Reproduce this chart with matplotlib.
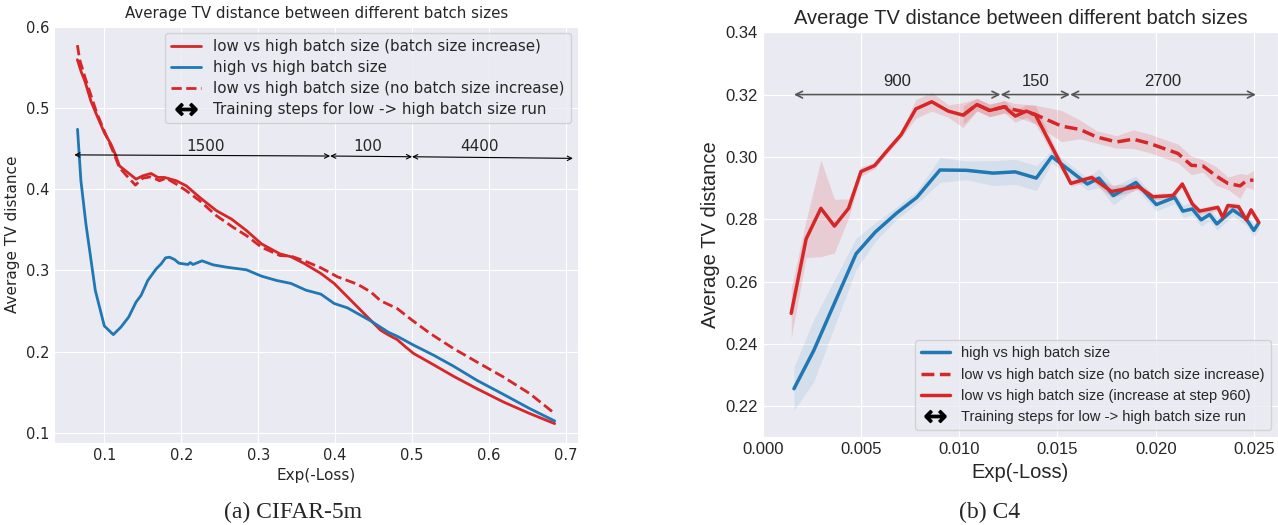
import numpy as np
import matplotlib
matplotlib.use('Agg')
import matplotlib.pyplot as plt
import seaborn as sns
from matplotlib.lines import Line2D

sns.set_style('darkgrid')
plt.rcParams['font.family'] = ['DejaVu Sans']

RED = '#d62728'
BLUE = '#1f77b4'
SANS2 = 'Liberation Sans'

# ---- (a) CIFAR-5m ----
# low vs high batch size (batch size increase)
cif_inc_x = [0.065, 0.070, 0.075, 0.0826, 0.09, 0.1, 0.1087, 0.1143, 0.1196, 0.1304,
             0.1413, 0.15, 0.1609, 0.1696, 0.1783, 0.1935, 0.2065, 0.2239, 0.2457, 0.2652,
             0.2848, 0.3043, 0.3283, 0.3427, 0.3599, 0.3815, 0.3987, 0.416, 0.4332, 0.4461,
             0.4591, 0.4698, 0.4806, 0.4914, 0.5022, 0.5237, 0.5539, 0.5841, 0.6185, 0.653, 0.6853]
cif_inc_y = [0.560, 0.545, 0.533, 0.509, 0.492, 0.470, 0.4557, 0.4434, 0.4291, 0.4209,
             0.4127, 0.4168, 0.4197, 0.4148, 0.4148, 0.4107, 0.4045, 0.3902, 0.3738, 0.3635,
             0.3492, 0.3328, 0.3205, 0.3169, 0.3086, 0.2963, 0.284, 0.2675, 0.251, 0.2387,
             0.2263, 0.2202, 0.2148, 0.2058, 0.1975, 0.186, 0.1695, 0.1543, 0.1379, 0.1235, 0.1111]
# high vs high batch size
cif_hh_x = [0.0652, 0.0696, 0.0761, 0.0883, 0.1, 0.1117, 0.1217, 0.1317, 0.1413, 0.1478,
            0.1565, 0.1674, 0.1739, 0.1796, 0.1848, 0.1913, 0.197, 0.2087, 0.2117, 0.2152,
            0.227, 0.2413, 0.2587, 0.2848, 0.3043, 0.3239, 0.3427, 0.3621, 0.3815, 0.3987,
            0.416, 0.4461, 0.4698, 0.4806, 0.5022, 0.528, 0.5539, 0.5841, 0.6185, 0.653, 0.6853]
cif_hh_y = [0.4742, 0.4107, 0.3574, 0.2754, 0.2316, 0.2209, 0.2303, 0.2426, 0.2611, 0.2693,
            0.2877, 0.302, 0.3082, 0.3156, 0.3164, 0.3135, 0.309, 0.3074, 0.3098, 0.3074,
            0.3119, 0.307, 0.3041, 0.3008, 0.293, 0.2877, 0.284, 0.2757, 0.2708, 0.2593,
            0.2539, 0.2379, 0.2235, 0.2189, 0.2078, 0.1955, 0.1819, 0.1646, 0.1473, 0.1296, 0.1144]
# low vs high batch size (no batch size increase)
cif_noinc_x = [0.065, 0.068, 0.075, 0.082, 0.09, 0.1, 0.11, 0.1196, 0.1291, 0.1404,
               0.15, 0.1609, 0.1717, 0.1804, 0.1935, 0.2065, 0.2239, 0.2457, 0.2674, 0.2848,
               0.3043, 0.3283, 0.3427, 0.3599, 0.3815, 0.403, 0.4289, 0.4461, 0.4591, 0.4806,
               0.5, 0.5237, 0.5539, 0.5841, 0.6185, 0.653, 0.6853]
cif_noinc_y = [0.578, 0.560, 0.538, 0.518, 0.495, 0.472, 0.450, 0.427, 0.4168, 0.4053,
               0.4139, 0.4156, 0.4107, 0.4139, 0.4066, 0.3984, 0.3861, 0.3676, 0.3533, 0.343,
               0.3287, 0.3184, 0.3177, 0.3119, 0.3033, 0.2922, 0.2831, 0.2737, 0.2626, 0.2531,
               0.2387, 0.2222, 0.2037, 0.1872, 0.1687, 0.1481, 0.1235]
# training-step arrows
cif_arrow_x = [0.061, 0.3935, 0.5, 0.709]
cif_arrow_y = [0.4426, 0.4412, 0.4403, 0.4383]
cif_steps = ['1500', '100', '4400']
cif_step_x = [0.232, 0.442, 0.588]

# ---- (b) C4 ----
c4_hh_x = [0.00159, 0.0026, 0.00475, 0.00573, 0.00682, 0.00784, 0.00902, 0.01037, 0.01172,
           0.01285, 0.01392, 0.01471, 0.01652, 0.01711, 0.01784, 0.01899, 0.02003, 0.02096,
           0.02138, 0.02186, 0.02231, 0.02274, 0.02311, 0.02392, 0.0246, 0.02499, 0.02524]
c4_hh_y = [0.2256, 0.2379, 0.2689, 0.2759, 0.282, 0.287, 0.2958, 0.2957, 0.2948,
           0.2952, 0.2932, 0.3001, 0.2913, 0.2932, 0.2876, 0.2918, 0.2847, 0.287,
           0.2826, 0.2833, 0.2798, 0.2815, 0.2785, 0.283, 0.2801, 0.2764, 0.2788]
c4_hh_sd = [0.007, 0.010, 0.005, 0.003, 0.002, 0.002, 0.004, 0.003, 0.004,
            0.004, 0.004, 0.002, 0.002, 0.003, 0.003, 0.002, 0.002, 0.002,
            0.002, 0.002, 0.002, 0.002, 0.002, 0.002, 0.002, 0.002, 0.002]

c4_noinc_x = [0.0102, 0.0109, 0.01155, 0.0123, 0.01277, 0.01387, 0.0152, 0.01615, 0.01699, 0.01801,
              0.01885, 0.0197, 0.02113, 0.02181, 0.0224, 0.02307, 0.02367, 0.02429, 0.0246, 0.02497]
c4_noinc_y = [0.3134, 0.3168, 0.3149, 0.3161, 0.3152, 0.3136, 0.3099, 0.3088, 0.3064, 0.3048,
              0.3057, 0.3043, 0.3011, 0.2973, 0.2971, 0.2939, 0.2915, 0.2907, 0.2923, 0.2926]
c4_noinc_sd = [0.003, 0.002, 0.002, 0.002, 0.002, 0.003, 0.005, 0.003, 0.002, 0.002,
               0.003, 0.003, 0.003, 0.003, 0.002, 0.003, 0.002, 0.004, 0.002, 0.003]

c4_inc_x = [0.00145, 0.00221, 0.00296, 0.00365, 0.00437, 0.005, 0.00569, 0.00632, 0.00704, 0.00779,
            0.0086, 0.00944, 0.0102, 0.0109, 0.01155, 0.0123, 0.01285, 0.01341, 0.01387, 0.01568,
            0.01674, 0.01775, 0.0191, 0.01986, 0.02088, 0.02135, 0.02186, 0.02223, 0.02316, 0.02341,
            0.02367, 0.02422, 0.0246, 0.02485, 0.02524]
c4_inc_y = [0.2498, 0.2737, 0.2835, 0.2778, 0.2835, 0.2953, 0.2972, 0.3019, 0.3071, 0.3154,
            0.3177, 0.3147, 0.3134, 0.3168, 0.3149, 0.3161, 0.3131, 0.3147, 0.3136, 0.2915,
            0.2934, 0.2889, 0.2905, 0.2872, 0.2876, 0.2913, 0.2849, 0.2826, 0.2838, 0.2806,
            0.2844, 0.2840, 0.2798, 0.283, 0.279]
c4_inc_sd = [0.008, 0.006, 0.0155, 0.0086, 0.003, 0.0015, 0.001, 0.001, 0.001, 0.003,
             0.003, 0.002, 0.004, 0.002, 0.002, 0.002, 0.002, 0.002, 0.003, 0.001,
             0.001, 0.002, 0.001, 0.001, 0.001, 0.001, 0.001, 0.001, 0.001, 0.001,
             0.001, 0.001, 0.001, 0.001, 0.001]

c4_arrow_x = [0.00159, 0.0121, 0.01564, 0.0251]
c4_arrow_y = 0.32
c4_steps = ['900', '150', '2700']

fig = plt.figure(figsize=(12.78, 5.25), dpi=100)
ax1 = fig.add_axes([0.0423, 0.1568, 0.4102, 0.7937])
ax2 = fig.add_axes([0.5968, 0.167, 0.4032, 0.7715])

# left panel
ax1.plot(cif_inc_x, cif_inc_y, color=RED, lw=2)
ax1.plot(cif_hh_x, cif_hh_y, color=BLUE, lw=2)
ax1.plot(cif_noinc_x, cif_noinc_y, color=RED, lw=2, ls='--')
for i in range(3):
    ax1.annotate('', xy=(cif_arrow_x[i + 1], cif_arrow_y[i + 1]),
                 xytext=(cif_arrow_x[i], cif_arrow_y[i]),
                 arrowprops=dict(arrowstyle='<->', color='k', lw=0.8,
                                 shrinkA=0, shrinkB=0, mutation_scale=8))
    ax1.text(cif_step_x[i], 0.4535, cif_steps[i], ha='center', va='center', fontsize=11)
ax1.set_xlim(0.0347, 0.716)
ax1.set_ylim(0.0876, 0.6016)
ax1.set_xticks([0.1, 0.2, 0.3, 0.4, 0.5, 0.6, 0.7])
ax1.set_yticks([0.1, 0.2, 0.3, 0.4, 0.5, 0.6])
ax1.tick_params(labelsize=10.5, length=0)
ax1.set_title('Average TV distance between different batch sizes', fontsize=10.8)
ax1.set_xlabel('Exp(-Loss)', fontsize=11)
ax1.set_ylabel('Average TV distance', fontsize=11)
h1 = [Line2D([], [], color=RED, lw=2),
      Line2D([], [], color=BLUE, lw=2),
      Line2D([], [], color=RED, lw=2, ls='--'),
      Line2D([], [], color='k', ls='none', marker=r'$\leftrightarrow$', markersize=15)]
ax1.legend(h1, ['low vs high batch size (batch size increase)', 'high vs high batch size',
                'low vs high batch size (no batch size increase)',
                'Training steps for low -> high batch size run'],
           loc='upper right', fontsize=10.8, labelspacing=0.4)

# right panel
ax2.fill_between(c4_hh_x, np.array(c4_hh_y) - c4_hh_sd, np.array(c4_hh_y) + c4_hh_sd,
                 color=BLUE, alpha=0.1, lw=0)
ax2.fill_between(c4_noinc_x, np.array(c4_noinc_y) - c4_noinc_sd, np.array(c4_noinc_y) + c4_noinc_sd,
                 color=RED, alpha=0.15, lw=0)
ax2.fill_between(c4_inc_x, np.array(c4_inc_y) - c4_inc_sd, np.array(c4_inc_y) + c4_inc_sd,
                 color=RED, alpha=0.15, lw=0)
ax2.plot(c4_hh_x, c4_hh_y, color=BLUE, lw=2.5)
ax2.plot(c4_noinc_x, c4_noinc_y, color=RED, lw=2.5, ls='--')
ax2.plot(c4_inc_x, c4_inc_y, color=RED, lw=2.5)
for i in range(3):
    ax2.annotate('', xy=(c4_arrow_x[i + 1], c4_arrow_y), xytext=(c4_arrow_x[i], c4_arrow_y),
                 arrowprops=dict(arrowstyle='<->', color='#555555', lw=1.2,
                                 shrinkA=0, shrinkB=0, mutation_scale=12))
    ax2.text((c4_arrow_x[i] + c4_arrow_x[i + 1]) / 2, 0.3243, c4_steps[i],
             ha='center', va='center', fontsize=12, family=SANS2)
ax2.set_xlim(0.0, 0.02622)
ax2.set_ylim(0.21, 0.34)
ax2.set_xticks([0.0, 0.005, 0.01, 0.015, 0.02, 0.025])
ax2.set_xticklabels(['0.000', '0.005', '0.010', '0.015', '0.020', '0.025'])
ax2.set_yticks([0.22, 0.24, 0.26, 0.28, 0.30, 0.32, 0.34])
ax2.set_yticklabels(['0.22', '0.24', '0.26', '0.28', '0.30', '0.32', '0.34'])
ax2.tick_params(labelsize=12, labelfontfamily=SANS2, length=0)
ax2.set_title('Average TV distance between different batch sizes', fontsize=14.5, family=SANS2)
ax2.set_xlabel('Exp(-Loss)', fontsize=14.5, family=SANS2)
ax2.set_ylabel('Average TV distance', fontsize=14.5, family=SANS2)
h2 = [Line2D([], [], color=BLUE, lw=2.5),
      Line2D([], [], color=RED, lw=2.5, ls='--'),
      Line2D([], [], color=RED, lw=2.5),
      Line2D([], [], color='k', ls='none', marker=r'$\leftrightarrow$', markersize=15)]
ax2.legend(h2, ['high vs high batch size', 'low vs high batch size (no batch size increase)',
                'low vs high batch size (increase at step 960)',
                'Training steps for low -> high batch size run'],
           loc='lower right', prop={'family': SANS2, 'size': 10.5})

fig.text(293 / 1278, 1 - 512 / 525, '(a) CIFAR-5m', ha='center', va='center',
         fontsize=17, family='Liberation Serif')
fig.text(990 / 1278, 1 - 512 / 525, '(b) C4', ha='center', va='center',
         fontsize=17, family='Liberation Serif')

fig.savefig('out.png', dpi=100)
